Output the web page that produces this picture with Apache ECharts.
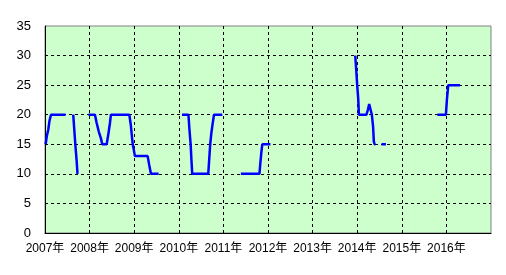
<!DOCTYPE html>
<html>
<head>
<meta charset="utf-8">
<script src="https://cdn.jsdelivr.net/npm/echarts@6/dist/echarts.min.js"></script>
<style>html,body{margin:0;padding:0;background:#fff}#c{width:506px;height:275px}</style>
</head>
<body>
<div id="c"></div>
<script>
// Dates of observations (null value = gap in the line)
const dates = [
  '2007-01-06','2007-01-17','2007-01-28','2007-02-07','2007-02-19','2007-06-19',
  '2007-07-20',
  '2007-08-20','2007-08-28','2007-09-06','2007-09-16','2007-09-24',
  '2007-11-01',
  '2007-12-23','2008-02-14','2008-02-28','2008-03-17','2008-04-03','2008-04-14','2008-05-20',
  '2008-06-02','2008-06-16','2008-06-24','2008-11-22','2008-12-04','2008-12-12','2008-12-20',
  '2008-12-31','2009-01-07','2009-04-21','2009-05-04','2009-05-18','2009-07-20',
  '2009-10-01',
  '2010-01-27','2010-03-21','2010-03-29','2010-04-08','2010-04-14','2010-04-21','2010-08-30',
  '2010-09-07','2010-09-15','2010-09-25','2010-10-05','2010-10-16','2010-12-23',
  '2011-03-01',
  '2011-05-24','2011-10-23','2011-10-31','2011-11-07','2011-11-15','2012-01-21',
  '2013-01-01',
  '2013-12-16','2013-12-24','2014-01-01','2014-01-10','2014-01-15','2014-03-18','2014-03-29',
  '2014-04-09','2014-04-20','2014-05-01','2014-05-11','2014-05-17','2014-05-23','2014-05-30',
  '2014-06-20',
  '2014-07-19','2014-08-24',
  '2015-03-01',
  '2015-10-19','2015-12-28','2016-01-05','2016-01-16','2016-04-22'
];
const values = [
  15, 16.5, 17.5, 19, 20, 20,
  null,
  20, 17.7, 15, 12.5, 10,
  null,
  20, 20, 18.6, 17.1, 16, 15, 15,
  16.6, 18.6, 20, 20, 18.3, 16.6, 15,
  13.8, 13, 13, 11.5, 10, 10,
  null,
  20, 20, 17.5, 15, 12.5, 10, 10,
  12.5, 15, 17, 18.5, 20, 20,
  null,
  10, 10, 12, 13.5, 15, 15,
  null,
  30, 27.6, 25, 22.5, 20, 20, 20.8,
  21.8, 22, 20, 18, 15.5, 15, 15,
  null,
  15, 15,
  null,
  20, 20, 22.5, 25, 25
];
const yTicks = [0, 5, 10, 15, 20, 25, 30, 35];
const xYears = [2007, 2008, 2009, 2010, 2011, 2012, 2013, 2014, 2015, 2016, 2017];

function toYear(s) {
  const d = Date.parse(s + 'T00:00:00Z');
  const y = new Date(d).getUTCFullYear();
  const a = Date.UTC(y, 0, 1), b = Date.UTC(y + 1, 0, 1);
  return y + (d - a) / (b - a);
}
const seriesData = dates.map((s, i) => [toYear(s), values[i] === null ? '-' : values[i]]);

const chart = echarts.init(document.getElementById('c'), null, {renderer: 'canvas'});
chart.setOption({
  animation: false,
  backgroundColor: '#ffffff',
  grid: {
    left: 45, right: 15, top: 26, bottom: 42,
    show: true, backgroundColor: '#CCFFCC', borderColor: '#808080', borderWidth: 1,
    containLabel: false
  },
  xAxis: {
    type: 'value',
    min: xYears[0], max: xYears[xYears.length - 1], interval: 1,
    axisLine: {show: true, onZero: false, lineStyle: {color: '#000', width: 1}},
    axisTick: {show: false},
    axisLabel: {
      color: '#000', fontSize: 12, margin: 10,
      fontFamily: '"Liberation Sans Narrow", "Liberation Sans", "Noto Sans CJK JP", sans-serif',
      showMaxLabel: false,
      formatter: v => (xYears.indexOf(v) >= 0 ? v + '年' : '')
    },
    splitLine: {show: true, showMinLine: false, showMaxLine: false,
      lineStyle: {color: '#000', width: 1, type: [3, 3]}}
  },
  yAxis: {
    type: 'value',
    min: yTicks[0], max: yTicks[yTicks.length - 1], interval: 5,
    axisLine: {show: true, lineStyle: {color: '#000', width: 1}},
    axisTick: {show: false},
    axisLabel: {
      color: '#000', fontSize: 13, margin: 14,
      fontFamily: '"Liberation Sans", Arial, sans-serif'
    },
    splitLine: {show: true, showMinLine: false, showMaxLine: false,
      lineStyle: {color: '#000', width: 1, type: [3, 3]}}
  },
  series: [{
    type: 'line',
    data: seriesData,
    showSymbol: false,
    connectNulls: false,
    lineStyle: {color: '#0000FF', width: 2.5},
    itemStyle: {color: '#0000FF'}
  }]
});
</script>
</body>
</html>
